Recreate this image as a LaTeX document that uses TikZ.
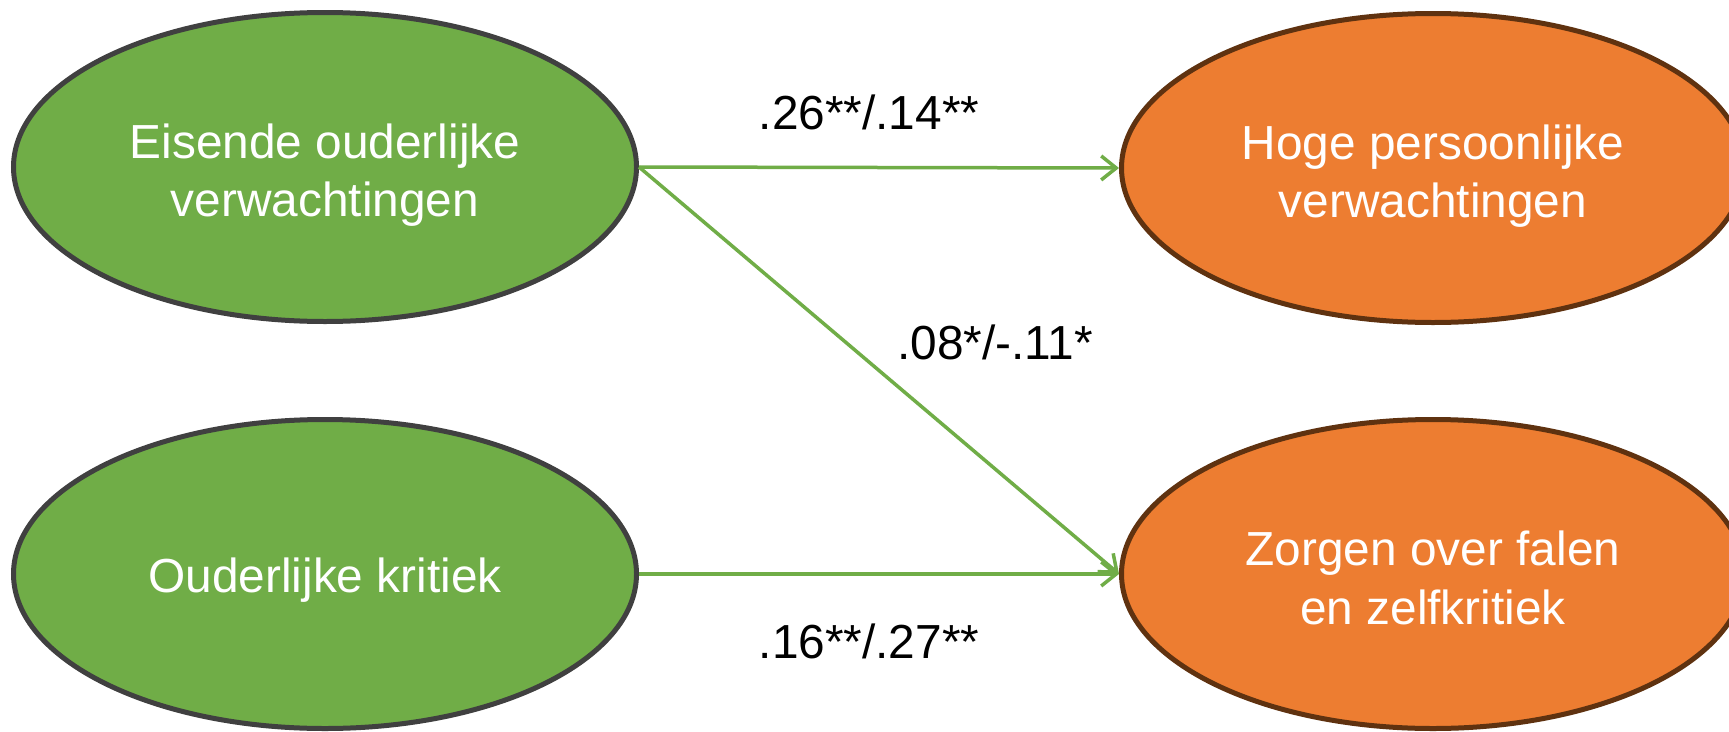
\documentclass[tikz,border=0pt]{standalone}
\usepackage{fontspec}
\setmainfont{Liberation Sans}
\usetikzlibrary{shapes.geometric,arrows.meta}
\definecolor{grfill}{HTML}{70AD47}
\definecolor{grline}{HTML}{404040}
\definecolor{orfill}{HTML}{ED7D31}
\definecolor{orline}{HTML}{5F3210}
\begin{document}
\begin{tikzpicture}[x=1pt,y=-1pt,
  var/.style={ellipse, minimum width=623pt, minimum height=309pt, inner sep=0pt,
    line width=5pt},
  pred/.style={var, fill=grfill, draw=grline},
  outc/.style={var, fill=orfill, draw=orline},
  vtext/.style={text=white, align=center, inner sep=0pt, font=\fontsize{47.8}{58.5}\selectfont},
  pathln/.style={draw=grfill, line width=3.5pt, -{Straight Barb[length=15pt,width=24pt]}},
  coef/.style={font=\fontsize{47.8}{58}\selectfont, anchor=base, inner sep=0pt}]
\useasboundingbox (0,0) rectangle (1729,731);
\fill[white] (0,0) rectangle (1729,731);
\clip (0,0) rectangle (1729,731);
\node[pred] (A) at (325,167) {};
\node[pred] (B) at (325,574) {};
\node[outc] (C) at (1433,168) {};
\node[outc] (D) at (1433,574) {};
\node[vtext] (At) at ([yshift=-8pt]A.center) {Eisende ouderlijke\\verwachtingen};
\node[vtext] (Bt) at ([yshift=-6pt]B.center) {Ouderlijke kritiek};
\node[vtext] (Ct) at ([yshift=-8pt]C.center) {Hoge persoonlijke\\verwachtingen};
\node[vtext] (Dt) at ([yshift=-4pt]D.center) {Zorgen over falen\\en zelfkritiek};
\draw[pathln] (A.east) -- (C.west);
\draw[pathln] (A.east) -- (D.west);
\draw[pathln] (B.east) -- (D.west);
\node[coef] (l1) at (869,129) {.26**/.14**};
\node[coef] (l2) at (995,359) {.08*/-.11*};
\node[coef] (l3) at (869,658) {.16**/.27**};
\end{tikzpicture}
\end{document}
